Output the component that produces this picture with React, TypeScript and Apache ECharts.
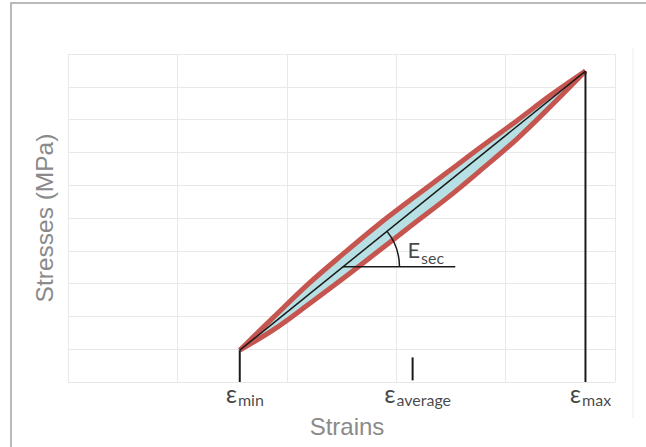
import React, { useEffect, useRef } from 'react';
import * as echarts from 'echarts';

// Strain positions (x) of the loop points, and the two branches of the hysteresis loop (stress)
const loopStrain = [1.57, 1.89, 2.2, 2.52, 2.83, 3.15, 3.47, 3.78, 4.1, 4.41, 4.73];
const upperStress = [0.97, 2.01, 3.0, 3.92, 4.78, 5.6, 6.4, 7.18, 7.96, 8.74, 9.48];
const lowerStress = [0.97, 1.62, 2.37, 3.17, 3.97, 4.8, 5.62, 6.48, 7.4, 8.4, 9.48];

// Characteristic strains and the stress at the loop tips
const strainMarks = [1.57, 3.15, 4.73];
const strainNames = ['min', 'average', 'max'];
const stressAtMin = 0.97;
const stressAtMax = 9.48;
const averageTick = [0.05, 0.75];

// Secant-modulus annotation
const secantAnchor = [2.51, 3.51];
const secantLineEnd = 3.54;
const secantArcEnd = 3.03;
const secantLabel = [3.27, 4.04];

const axisX = { min: 0, max: 5, interval: 1 };
const axisY = { min: 0, max: 10, interval: 1 };

export default function App() {
  const ref = useRef<HTMLDivElement>(null);
  useEffect(() => {
    if (!ref.current) return;
    const chart = echarts.init(ref.current, null, { renderer: 'svg' });
    const upper = loopStrain.map((x, i) => [x, upperStress[i]]);
    const lower = loopStrain.map((x, i) => [x, lowerStress[i]]);
    const loop = upper.concat(lower.slice().reverse());
    const black = '#1a1a1a';
    const red = '#c65550';
    const richLabel = {
      e: { fontSize: 25, lineHeight: 22, fontFamily: 'Lato', color: '#161616', verticalAlign: 'top' },
      s: { fontSize: 16, lineHeight: 15, fontFamily: 'Lato', color: '#161616', verticalAlign: 'top', padding: [11, 0, 0, 1] },
    };
    const seg = (data: number[][], width = 2) => ({
      type: 'line',
      data,
      showSymbol: false,
      symbol: 'none',
      silent: true,
      lineStyle: { color: black, width },
      z: 5,
    });
    chart.setOption({
      animation: false,
      grid: { left: 68, right: 31, top: 54, bottom: 65 },
      graphic: [
        {
          type: 'rect',
          shape: { x: 11, y: 3, width: 700, height: 500 },
          style: { fill: 'none', stroke: '#a3a3a3', lineWidth: 1.5 },
          silent: true,
        },
        {
          type: 'line',
          shape: { x1: 633, y1: 48, x2: 633, y2: 418 },
          style: { stroke: '#ececec', lineWidth: 1 },
          silent: true,
        },
      ],
      xAxis: {
        type: 'value',
        ...axisX,
        name: 'Strains',
        nameLocation: 'middle',
        nameGap: 32,
        nameTextStyle: { fontSize: 24, color: '#8a8a8a', fontFamily: 'Liberation Sans', padding: [0, 0, 0, 11] },
        axisLine: { show: false },
        axisTick: { show: false },
        axisLabel: { show: false },
        splitLine: { show: true, lineStyle: { color: '#e8e8e8', width: 1 } },
      },
      yAxis: {
        type: 'value',
        ...axisY,
        name: 'Stresses (MPa)',
        nameLocation: 'middle',
        nameGap: 11,
        nameTextStyle: { fontSize: 24.5, color: '#8a8a8a', fontFamily: 'Liberation Sans' },
        axisLine: { show: false },
        axisTick: { show: false },
        axisLabel: { show: false },
        splitLine: { show: true, lineStyle: { color: '#e8e8e8', width: 1 } },
      },
      series: [
        {
          type: 'custom',
          silent: true,
          data: [loop[0]],
          z: 2,
          renderItem: (_p: any, api: any) => ({
            type: 'polygon',
            shape: { points: loop.map((p) => api.coord(p)) },
            style: { fill: '#b6e0e3' },
          }),
        },
        {
          type: 'line', data: upper, smooth: 0.35, showSymbol: false, symbol: 'none', silent: true,
          lineStyle: { color: red, width: 5 }, z: 3,
        },
        {
          type: 'line', data: lower, smooth: 0.35, showSymbol: false, symbol: 'none', silent: true,
          lineStyle: { color: red, width: 5 }, z: 3,
        },
        seg([[strainMarks[0], stressAtMin], [strainMarks[2], stressAtMax]], 1.5),
        seg([[strainMarks[0], 0], [strainMarks[0], stressAtMin]]),
        seg([[strainMarks[2], 0], [strainMarks[2], stressAtMax]]),
        seg([[strainMarks[1], averageTick[0]], [strainMarks[1], averageTick[1]]]),
        seg([secantAnchor, [secantLineEnd, secantAnchor[1]]], 1.5),
        {
          type: 'custom',
          silent: true,
          data: [secantAnchor],
          z: 5,
          renderItem: (_p: any, api: any) => {
            const c = api.coord(secantAnchor);
            const e = api.coord([secantArcEnd, secantAnchor[1]]);
            const s1 = api.coord([strainMarks[0], stressAtMin]);
            const s2 = api.coord([strainMarks[2], stressAtMax]);
            const ang = Math.atan2(s2[1] - s1[1], s2[0] - s1[0]);
            return {
              type: 'arc',
              shape: { cx: c[0], cy: c[1], r: e[0] - c[0], startAngle: ang, endAngle: 0, clockwise: true },
              style: { fill: 'none', stroke: black, lineWidth: 1.5 },
            };
          },
        },
        {
          type: 'scatter',
          silent: true,
          symbolSize: 1,
          itemStyle: { color: 'rgba(0,0,0,0)' },
          data: strainMarks.map((x, i) => ({ value: [x, 0], name: strainNames[i] })),
          label: {
            show: true,
            position: 'bottom',
            distance: 0,
            offset: [5, -2],
            formatter: (p: any) => `{e|ε}{s|${p.name}}`,
            rich: richLabel,
          },
          z: 6,
        },
        {
          type: 'scatter',
          silent: true,
          symbolSize: 1,
          itemStyle: { color: 'rgba(0,0,0,0)' },
          data: [{ value: secantLabel, name: 'sec' }],
          label: {
            show: true,
            position: 'inside',
            formatter: (p: any) => `{e|E}{s|${p.name}}`,
            rich: {
              e: { fontSize: 22, lineHeight: 22, fontFamily: 'Lato', color: '#161616', verticalAlign: 'top' },
              s: { fontSize: 16, lineHeight: 15, fontFamily: 'Lato', color: '#161616', verticalAlign: 'top', padding: [11, 0, 0, 1] },
            },
          },
          z: 6,
        },
      ],
    });
    return () => chart.dispose();
  }, []);
  return (
    <div
      ref={ref}
      style={{ position: 'fixed', left: 0, top: 0, width: 646, height: 447, background: '#fff' }}
    />
  );
}
